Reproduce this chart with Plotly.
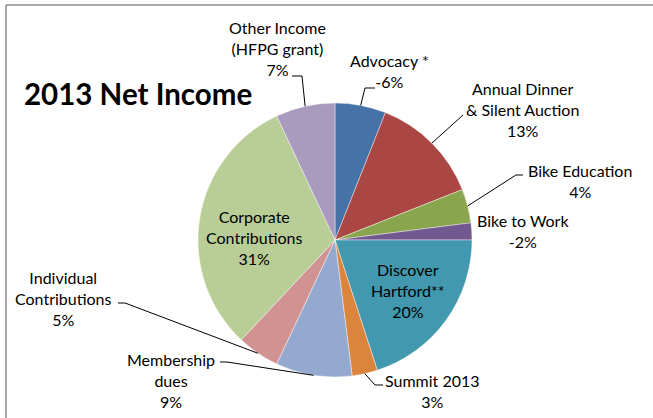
import math
import plotly.graph_objects as go

# ---- data ----
categories = ["Advocacy *", "Annual Dinner<br>& Silent Auction", "Bike Education", "Bike to Work",
              "Discover<br>Hartford**", "Summit 2013", "Membership<br>dues", "Individual<br>Contributions",
              "Corporate<br>Contributions", "Other Income<br>(HFPG grant)"]
net_pct = [-6, 13, 4, -2, 20, 3, 9, 5, 31, 7]          # signed percentages shown in labels
slice_size = [abs(v) for v in net_pct]                # slices drawn by magnitude
colors = ["#4572A7", "#AA4643", "#89A54E", "#71588F", "#4198AF",
          "#DB843D", "#93A9CF", "#D19392", "#B9CD96", "#A99BBD"]

W, H = 653, 418
CX, CY, R = 335, 240, 137   # pie centre / radius in pixels (layout)

# label placement (layout, pixel centres of the text block) and leader-line elbows
label_pos = {
    0: (389, 71), 1: (522, 110), 2: (580, 181), 3: (523, 231), 4: (408, 290),
    5: (432, 391), 6: (171, 380), 7: (63, 298), 8: (254, 237), 9: (277, 48),
}
leaders = {
    0: [(375, 88), (365, 88)],
    1: [(463, 115)],
    2: [(523, 175), (516, 175)],
    5: [(383, 385), (375, 385)],
    6: [(220, 362), (227, 362)],
    7: [(118, 303), (125, 303)],
    9: [(292, 76), (302, 76)],
}

def px_to_paper(x, y):
    return x / W, 1 - y / H

fig = go.Figure()
fig.add_trace(go.Pie(
    labels=[c.replace("<br>", " ") for c in categories],
    values=slice_size,
    sort=False,
    direction="clockwise",
    rotation=0,
    marker=dict(colors=colors, line=dict(color="rgba(255,255,255,0.6)", width=0.7)),
    textinfo="none",
    hoverinfo="label+percent",
    showlegend=False,
    domain=dict(x=[(CX - R) / W, (CX + R) / W], y=[(H - CY - R) / H, (H - CY + R) / H]),
))

font = dict(family="Lato, Open Sans, sans-serif", size=16, color="#000000")
annotations = []
for i, name in enumerate(categories):
    x, y = label_pos[i]
    px, py = px_to_paper(x, y)
    annotations.append(dict(
        x=px, y=py, xref="paper", yref="paper", showarrow=False,
        text=f"{name}<br>{net_pct[i]}%", align="center", font=font,
        xanchor="center", yanchor="middle",
    ))

annotations.append(dict(
    x=22 / W, y=1 - 93 / H, xref="paper", yref="paper", showarrow=False,
    text="<b>2013 Net Income</b>", xanchor="left", yanchor="middle",
    font=dict(family="Lato, Open Sans, sans-serif", size=29.5, color="#000000"),
))

total = sum(slice_size)
shapes = []
cum = 0
for i, v in enumerate(slice_size):
    mid = (cum + v / 2) / total * 2 * math.pi
    cum += v
    if i not in leaders:
        continue
    ex = CX + R * math.sin(mid)
    ey = CY - R * math.cos(mid)
    pts = leaders[i] + [(ex, ey)]
    for (x0, y0), (x1, y1) in zip(pts[:-1], pts[1:]):
        a0 = px_to_paper(x0, y0)
        a1 = px_to_paper(x1, y1)
        shapes.append(dict(type="line", xref="paper", yref="paper",
                           x0=a0[0], y0=a0[1], x1=a1[0], y1=a1[1],
                           line=dict(color="#000000", width=1)))

# chart border (top and left visible)
b0 = px_to_paper(6, 5)
shapes.append(dict(type="line", xref="paper", yref="paper", x0=b0[0], y0=b0[1], x1=1, y1=b0[1],
                   line=dict(color="#8C8C8C", width=1.5)))
shapes.append(dict(type="line", xref="paper", yref="paper", x0=b0[0], y0=b0[1], x1=b0[0], y1=0,
                   line=dict(color="#8C8C8C", width=1.5)))

fig.update_layout(
    width=W, height=H,
    margin=dict(l=0, r=0, t=0, b=0),
    paper_bgcolor="white", plot_bgcolor="white",
    annotations=annotations, shapes=shapes,
)
fig.write_html("out.html", config={"displayModeBar": False},
               post_script="document.body.style.margin='0';document.body.style.overflow='hidden';")
